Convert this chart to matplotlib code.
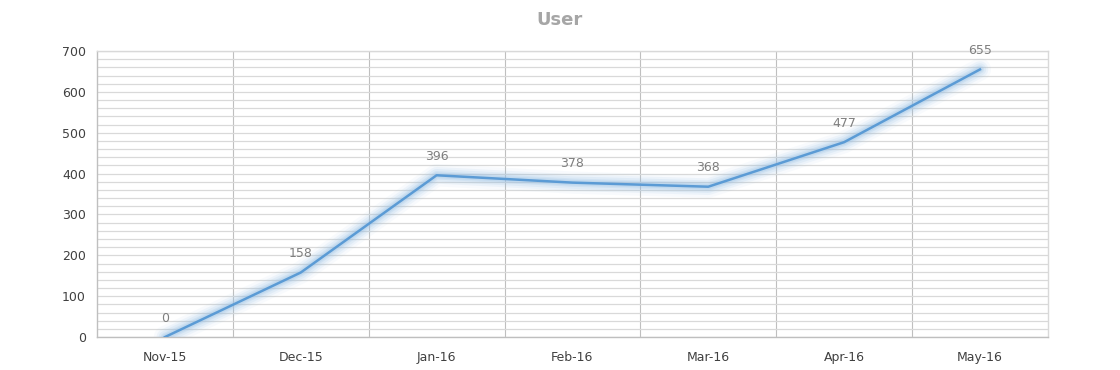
import matplotlib.pyplot as plt
import numpy as np

months = ['Nov-15', 'Dec-15', 'Jan-16', 'Feb-16', 'Mar-16', 'Apr-16', 'May-16']
users = [0, 158, 396, 378, 368, 477, 655]

fig = plt.figure(figsize=(11.2, 3.7), dpi=100)
ax = fig.add_axes([0.0866, 0.089, 0.849, 0.773])

x = np.arange(len(months))

# soft glow around the line
for lw, a in [(16, 0.07), (12, 0.12), (9, 0.16), (6, 0.22), (4, 0.28)]:
    ax.plot(x, users, color='#9DC3E6', linewidth=lw, alpha=a,
            solid_capstyle='round', solid_joinstyle='round', zorder=3)
ax.plot(x, users, color='#5B9BD5', linewidth=1.8, solid_joinstyle='round', zorder=4)

for xi, v in zip(x, users):
    ax.annotate(str(v), (xi, v), xytext=(0, 9), textcoords='offset points',
                ha='center', va='bottom', fontsize=9, color='#7F7F7F', zorder=5)

ax.set_xlim(-0.5, len(months) - 0.5)
ax.set_ylim(0, 700)
ax.set_yticks(np.arange(0, 701, 100))
ax.set_yticks(np.arange(0, 701, 20), minor=True)
ax.set_xticks(x)
ax.set_xticklabels(months)
ax.set_xticks(np.arange(0.5, len(months) - 0.5, 1), minor=True)

ax.grid(which='major', axis='y', color='#D9D9D9', linewidth=0.9)
ax.grid(which='minor', axis='y', color='#D9D9D9', linewidth=0.9)
ax.grid(which='minor', axis='x', color='#BFBFBF', linewidth=0.8)
ax.set_axisbelow(True)

ax.tick_params(which='both', length=0, labelsize=9, colors='#404040', pad=8)
ax.tick_params(axis='x', pad=10)
for name, sp in ax.spines.items():
    sp.set_color('#D9D9D9')
    sp.set_linewidth(1)
ax.spines['bottom'].set_color('#BFBFBF')
ax.spines['left'].set_color('#BFBFBF')

fig.text(0.5, 0.945, 'User', ha='center', va='center', fontsize=13,
         fontweight='bold', color='#A6A6A6')

fig.savefig('out.png', dpi=100)
